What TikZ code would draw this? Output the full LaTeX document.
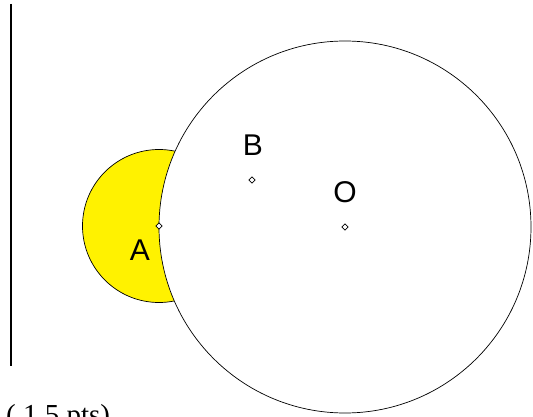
\documentclass[tikz,border=0pt]{standalone}
\usepackage{fontspec}
\setmainfont{Liberation Serif}
\setsansfont{Liberation Sans}
\usetikzlibrary{shapes.geometric}
\begin{document}
\begin{tikzpicture}[x=1pt,y=-1pt,
  ptmark/.style={diamond, draw, fill=white, inner sep=0pt, minimum size=6.5pt, line width=0.6pt},
  lbl/.style={font=\sffamily\fontsize{30}{30}\selectfont, inner sep=0pt},
  outline/.style={draw=black, line width=0.7pt}]
\useasboundingbox (0,0) rectangle (533,417);
\coordinate (O) at (345,227);
\coordinate (A) at (159,226);
\coordinate (B) at (252,180);
\coordinate (Ltop) at (11,4);
\coordinate (Lbot) at (11,366);
\draw[line width=1.8pt] (Ltop) -- (Lbot);
\path[outline, fill=yellow] (A) circle [radius=76.5pt];
\path[outline, fill=white] (O) circle [radius=186pt];
\node[ptmark] (pA) at (A) {};
\node[ptmark] (pB) at (B) {};
\node[ptmark] (pO) at (O) {};
\node[lbl] (lA) at (140,250) {A};
\node[lbl] (lB) at (253,145) {B};
\node[lbl] (lO) at (345,192) {O};
\node[anchor=base west, inner sep=0pt, font=\fontsize{29}{29}\selectfont] (note) at (6,424) {( 1.5 pts)};
\end{tikzpicture}
\end{document}
